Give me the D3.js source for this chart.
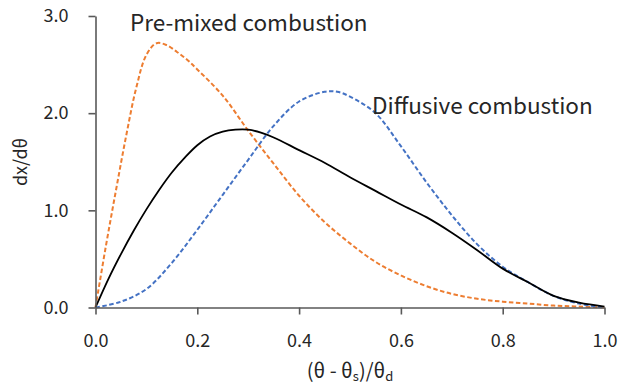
<!DOCTYPE html>
<html><head><meta charset="utf-8">
<script src="https://cdn.jsdelivr.net/npm/d3@7"></script>
<style>
html,body{margin:0;padding:0;background:#fff;}
svg{display:block;font-family:"Noto Sans CJK KR","Noto Sans",sans-serif;}
</style></head>
<body><svg id="chart" width="625" height="388"></svg>
<script>
const xTicks = [0, 0.2, 0.4, 0.6, 0.8, 1.0];
const yTicks = [0, 1, 2, 3];

const premixedX = [0, 0.02, 0.04, 0.06, 0.08, 0.10, 0.12, 0.14, 0.16, 0.18, 0.20, 0.25, 0.30, 0.35, 0.40, 0.45, 0.50, 0.55, 0.60, 0.65, 0.70, 0.75, 0.80, 0.85, 0.90, 0.95, 1.0];
const premixedY = [0, 0.62, 1.20, 1.76, 2.26, 2.60, 2.72, 2.70, 2.63, 2.55, 2.45, 2.18, 1.82, 1.48, 1.15, 0.88, 0.66, 0.47, 0.33, 0.22, 0.14, 0.09, 0.06, 0.04, 0.02, 0.01, 0];

const diffusiveX = [0, 0.05, 0.10, 0.15, 0.20, 0.25, 0.30, 0.35, 0.40, 0.45, 0.475, 0.50, 0.55, 0.60, 0.65, 0.70, 0.75, 0.80, 0.85, 0.90, 0.95, 1.0];
const diffusiveY = [0, 0.06, 0.19, 0.46, 0.80, 1.16, 1.52, 1.87, 2.12, 2.22, 2.22, 2.17, 2.00, 1.66, 1.29, 0.95, 0.65, 0.42, 0.26, 0.12, 0.04, 0];

const totalX = [0, 0.025, 0.05, 0.075, 0.10, 0.125, 0.15, 0.175, 0.20, 0.225, 0.25, 0.275, 0.30, 0.325, 0.35, 0.40, 0.45, 0.50, 0.55, 0.60, 0.65, 0.70, 0.75, 0.80, 0.85, 0.90, 0.95, 1.0];
const totalY = [0, 0.29, 0.55, 0.79, 1.01, 1.21, 1.39, 1.54, 1.67, 1.76, 1.81, 1.83, 1.83, 1.80, 1.75, 1.62, 1.49, 1.34, 1.20, 1.06, 0.93, 0.77, 0.59, 0.40, 0.26, 0.12, 0.05, 0.01];

const labels = ["Pre-mixed combustion", "Diffusive combustion"];

const svg = d3.select("#chart");
const x = d3.scaleLinear().domain([0, 1]).range([95.5, 604.5]);
const y = d3.scaleLinear().domain([0, 3]).range([307.5, 16]);

const axisColor = "#595959";
const textColor = "#262626";
const font = '"Noto Sans CJK KR","Noto Sans",sans-serif';

const line = d3.line().x(d => x(d[0])).y(d => y(d[1])).curve(d3.curveCatmullRom.alpha(0.5));
const zip = (a, b) => a.map((v, i) => [v, b[i]]);

svg.append("path").attr("d", line(zip(premixedX, premixedY)))
  .attr("fill", "none").attr("stroke", "#ED7D31").attr("stroke-width", 2)
  .attr("stroke-dasharray", "4.5,2.5");
svg.append("path").attr("d", line(zip(diffusiveX, diffusiveY)))
  .attr("fill", "none").attr("stroke", "#4472C4").attr("stroke-width", 2)
  .attr("stroke-dasharray", "4.5,2.5");
svg.append("path").attr("d", line(zip(totalX, totalY)))
  .attr("fill", "none").attr("stroke", "#000").attr("stroke-width", 1.8);

const xAxis = svg.append("g").attr("transform", "translate(0,307.5)")
  .call(d3.axisBottom(x).tickValues(xTicks).tickFormat(d3.format(".1f")).tickSize(7).tickSizeOuter(0).tickPadding(20));
const yAxis = svg.append("g").attr("transform", "translate(95.5,0)")
  .call(d3.axisLeft(y).tickValues(yTicks).tickFormat(d3.format(".1f")).tickSize(7).tickSizeOuter(0).tickPadding(20));

[xAxis, yAxis].forEach(g => {
  g.select(".domain").attr("stroke", axisColor).attr("stroke-width", 1.6);
  g.selectAll(".tick line").attr("stroke", axisColor).attr("stroke-width", 1.6);
  g.selectAll(".tick text").attr("fill", textColor).attr("font-size", 18).attr("font-family", font);
});

// axis titles
const xt = svg.append("text").attr("x", 350).attr("y", 378).attr("text-anchor", "middle")
  .attr("font-size", 20).attr("fill", textColor);
xt.append("tspan").text("(θ - θ");
xt.append("tspan").text("s").attr("font-size", 13).attr("dy", 3);
xt.append("tspan").text(")/θ").attr("dy", -3);
xt.append("tspan").text("d").attr("font-size", 13).attr("dy", 3);

svg.append("text").attr("transform", "translate(27,162) rotate(-90)")
  .attr("text-anchor", "middle").attr("font-size", 18).attr("fill", textColor).text("dx/dθ");

// annotations
svg.append("text").attr("x", 130).attr("y", 31).attr("font-size", 22.5).attr("fill", textColor).text(labels[0]);
svg.append("text").attr("x", 372).attr("y", 114).attr("font-size", 22.5).attr("fill", textColor).text(labels[1]);
</script></body></html>
